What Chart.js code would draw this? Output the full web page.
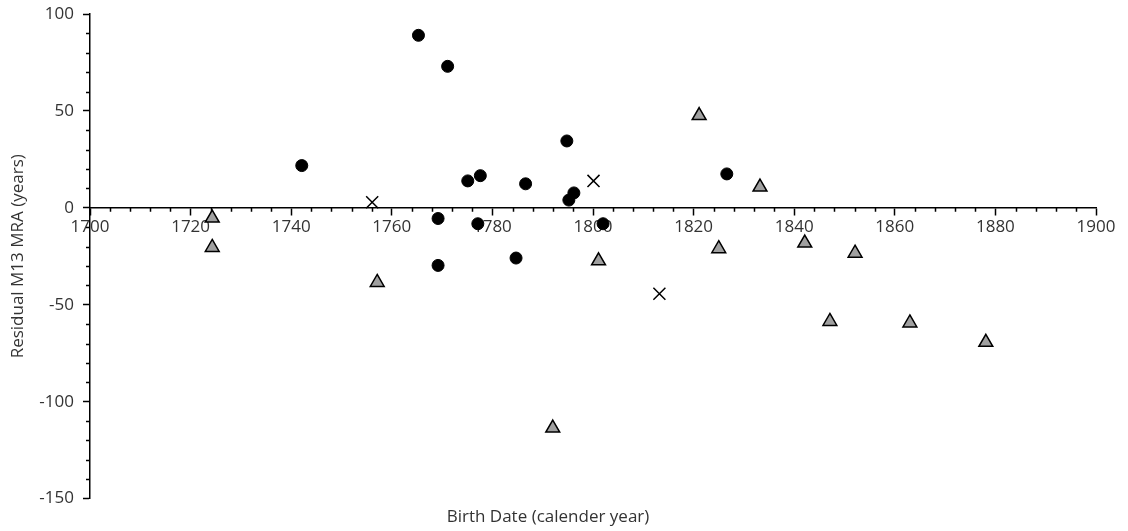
<!DOCTYPE html>
<html>
<head>
<meta charset="utf-8">
<script src="https://cdn.jsdelivr.net/npm/chart.js@4"></script>
<style>
  html, body { margin: 0; padding: 0; background: #fff; }
  #wrap { width: 1128px; height: 531px; }
</style>
</head>
<body>
<div id="wrap"><canvas id="my-chart"></canvas></div>
<script>
'use strict';

// black circles
let circleYears = [1742.1, 1765.3, 1771.1, 1775.1, 1777.6, 1786.6, 1794.8, 1796.2, 1795.2, 1826.6, 1769.2, 1777.1, 1802.0, 1784.7, 1769.2];
let circleResiduals = [21.8, 89.0, 73.0, 13.9, 16.6, 12.4, 34.5, 7.7, 4.0, 17.5, -5.5, -8.2, -8.2, -25.9, -29.7];

// grey triangles
let triangleYears = [1724.3, 1724.3, 1757.1, 1792.0, 1801.1, 1821.1, 1825.0, 1833.2, 1842.1, 1852.1, 1847.1, 1863.0, 1878.1];
let triangleResiduals = [-5.3, -20.4, -38.5, -113.6, -27.3, 47.6, -21.1, 10.7, -18.2, -23.4, -58.6, -59.4, -69.4];

// crosses
let crossYears = [1756.1, 1800.1, 1813.2];
let crossResiduals = [2.9, 13.9, -44.3];

let xMin = 1700;
let xMax = 1900;
let xMajorStep = 20;
let xMinorStep = 4;
let yMin = -150;
let yMax = 100;
let yMajorStep = 50;
let yMinorStep = 10;

let canvasElement = document.getElementById('my-chart');

Chart.defaults.font.family = '"Open Sans", "Liberation Sans", sans-serif';
Chart.defaults.font.size = 17;
Chart.defaults.color = '#333';

function toPoints(xs, ys) {
  let pts = [];
  for (let i = 0; i < xs.length; i++) {
    pts.push({ x: xs[i], y: ys[i] });
  }
  return pts;
}

// small minor ticks, like the spreadsheet axes have
let minorTicks = {
  id: 'minorTicks',
  afterDraw(chart) {
    let ctx = chart.ctx;
    let xs = chart.scales.x;
    let ys = chart.scales.y;
    let y0 = ys.getPixelForValue(0);
    let left = chart.chartArea.left;
    ctx.save();
    ctx.strokeStyle = '#000';
    ctx.lineWidth = 1.5;
    ctx.beginPath();
    for (let v = xMin; v <= xMax; v += xMinorStep) {
      if ((v - xMin) % xMajorStep === 0) continue;
      let px = Math.round(xs.getPixelForValue(v)) + 0.5;
      ctx.moveTo(px, y0);
      ctx.lineTo(px, y0 + 4);
    }
    for (let v = yMin; v <= yMax; v += yMinorStep) {
      if (v % yMajorStep === 0) continue;
      let py = Math.round(ys.getPixelForValue(v)) + 0.5;
      ctx.moveTo(left - 4, py);
      ctx.lineTo(left, py);
    }
    ctx.stroke();
    ctx.restore();
  }
};

function renderChart() {
  let chartObj = {
    type: 'scatter',
    data: {
      datasets: [{
        label: 'circles',
        data: toPoints(circleYears, circleResiduals),
        pointStyle: 'circle',
        pointRadius: 6,
        backgroundColor: '#000',
        borderColor: '#000',
        borderWidth: 1
      },
      {
        label: 'triangles',
        data: toPoints(triangleYears, triangleResiduals),
        pointStyle: 'triangle',
        pointRadius: 8,
        backgroundColor: '#a0a0a0',
        borderColor: '#000',
        borderWidth: 1.5
      },
      {
        label: 'crosses',
        data: toPoints(crossYears, crossResiduals),
        pointStyle: 'crossRot',
        pointRadius: 8.5,
        backgroundColor: '#000',
        borderColor: '#000',
        borderWidth: 1.5
      }]
    },
    options: {
      responsive: true,
      maintainAspectRatio: false,
      animation: false,
      layout: {
        padding: { top: 14, right: 32, bottom: 0, left: 0 }
      },
      plugins: {
        legend: { display: false },
        tooltip: { enabled: false },
        title: {
          display: true,
          position: 'bottom',
          text: 'Birth Date (calender year)',
          color: '#333',
          font: { size: 17, weight: 'normal' },
          padding: { top: 8, bottom: 4 }
        }
      },
      scales: {
        x: {
          type: 'linear',
          position: { y: 0 },
          min: xMin,
          max: xMax,
          ticks: {
            stepSize: xMajorStep,
            padding: 2,
            maxRotation: 0,
            callback: function (v) { return String(v); }
          },
          grid: {
            drawOnChartArea: false,
            tickLength: 7,
            tickColor: '#000',
            tickWidth: 1.5
          },
          border: { color: '#000', width: 1.5 }
        },
        y: {
          min: yMin,
          max: yMax,
          ticks: {
            stepSize: yMajorStep,
            padding: 9,
            callback: function (v) { return String(v); }
          },
          grid: {
            drawOnChartArea: false,
            tickLength: 7,
            tickColor: '#000',
            tickWidth: 1.5
          },
          border: { color: '#000', width: 1.5 },
          title: {
            display: true,
            text: 'Residual M13 MRA (years)',
            color: '#333',
            font: { size: 17 },
            padding: { top: 8, bottom: 0 }
          },
          afterFit(scale) {
            scale.width = 90;
            scale.paddingTop = 0;
            scale.paddingBottom = 0;
          }
        }
      }
    },
    plugins: [minorTicks]
  };
  new Chart(canvasElement, chartObj);//eslint-disable-line
}

renderChart();
</script>
</body>
</html>
